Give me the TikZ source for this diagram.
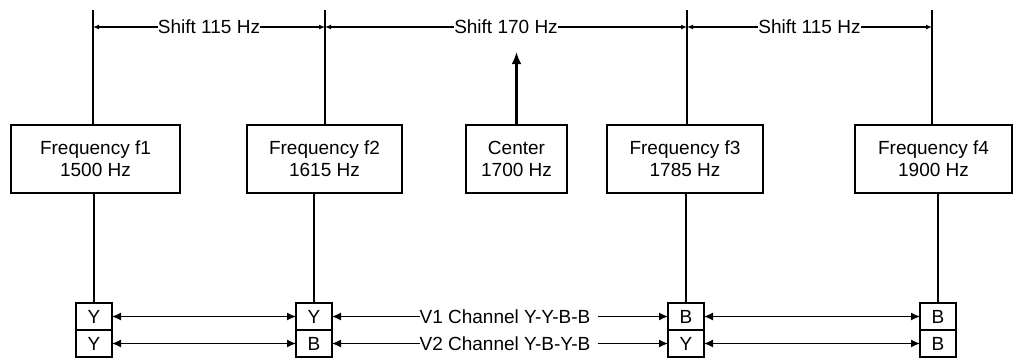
\documentclass[tikz,border=0pt]{standalone}
\usepackage{fontspec}
\setmainfont{Liberation Sans}
\usepackage{tikz}
\usetikzlibrary{arrows.meta, positioning}

\begin{document}
\begin{tikzpicture}[x=1pt, y=-1pt, line width=1.2pt,
    every node/.style={font=\fontsize{19}{22}\selectfont},
    freqbox/.style={draw, minimum width=156pt, minimum height=68pt, align=center, inner sep=0pt},
    cell/.style={draw, minimum width=36pt, minimum height=27pt, inner sep=0pt, outer sep=0pt},
    lbl/.style={fill=white, inner sep=0pt},
    dimarrow/.style={{Latex[length=6pt,width=5pt]}-{Latex[length=6pt,width=5pt]}},
    chanarrow/.style={{Latex[length=9pt,width=8pt]}-{Latex[length=9pt,width=8pt]}}]
    \useasboundingbox (0,0) rectangle (1017,360);

    % Các khung tần số
    \node[freqbox, minimum width=169pt] (f1) at (95.5,159) {Frequency f1\\1500 Hz};
    \node[freqbox, minimum width=155pt] (f2) at (324.5,159) {Frequency f2\\1615 Hz};
    \node[freqbox, minimum width=101pt] (fc) at (516.5,159) {Center\\1700 Hz};
    \node[freqbox] (f3) at (685,159) {Frequency f3\\1785 Hz};
    \node[freqbox, minimum width=157pt] (f4) at (933.5,159) {Frequency f4\\1900 Hz};

    % Đường dóng phía trên
    \foreach \f/\x in {f1/93, f2/325, f3/687, f4/932} {
        \coordinate (t\f) at (\x,10);
        \coordinate (d\f) at (\x,27);
        \draw (t\f) -- (t\f |- \f.north);
    }
    \draw[dimarrow] (df1) -- node[lbl] {Shift 115 Hz} (df2);
    \draw[dimarrow] (df2) -- node[lbl] {Shift 170 Hz} (df3);
    \draw[dimarrow] (df3) -- node[lbl] {Shift 115 Hz} (df4);

    % Mũi tên tần số trung tâm
    \coordinate (ctop) at (516.5,52);
    \draw[line width=2.6pt, -{Latex[length=12pt,width=10pt]}] (fc.north) -- (ctop);

    % Các ô kênh
    \foreach \n/\x/\a/\b in {1/94/Y/Y, 2/314/Y/B, 3/686/B/Y, 4/938/B/B} {
        \node[cell] (a\n) at (\x,316.5) {\a};
        \node[cell, below=0pt of a\n] (b\n) {\b};
    }
    \foreach \f/\n in {f1/1, f2/2, f3/3, f4/4} {
        \draw (\f.south -| a\n.north) -- (a\n.north);
    }

    % Mũi tên kênh
    \draw[chanarrow] (a1) -- (a2);
    \draw[chanarrow] (a2) -- node[lbl, xshift=9pt] {V1 Channel Y-Y-B-B\kern8pt} (a3);
    \draw[chanarrow] (a3) -- (a4);
    \draw[chanarrow] (b1) -- (b2);
    \draw[chanarrow] (b2) -- node[lbl, xshift=9pt] {V2 Channel Y-B-Y-B\kern8pt} (b3);
    \draw[chanarrow] (b3) -- (b4);
\end{tikzpicture}
\end{document}
